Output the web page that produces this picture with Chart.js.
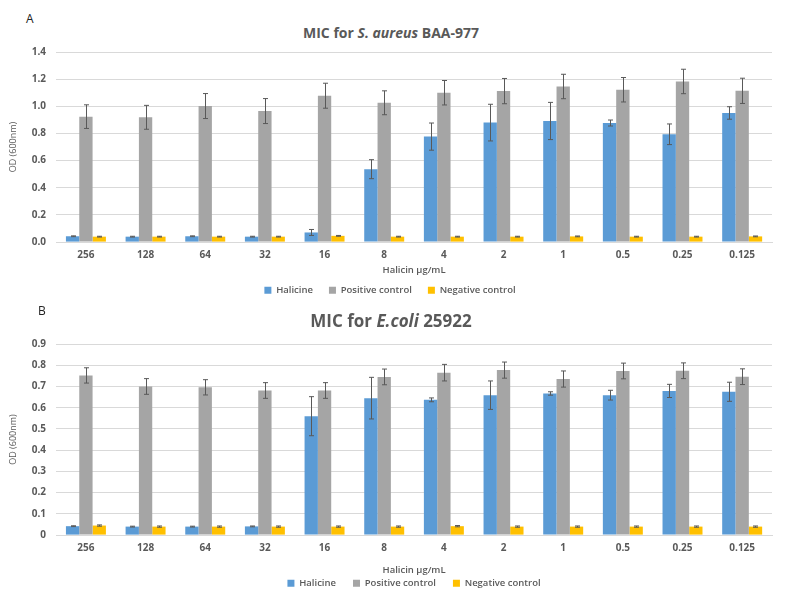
<!DOCTYPE html>
<html>
<head>
    <title>MIC for Halicin</title>
    <script src="https://cdn.jsdelivr.net/npm/chart.js"></script>
    <style>
        body {
            margin: 0;
            padding: 0;
            background: #fff;
            font-family: 'Open Sans', sans-serif;
            color: #595959;
        }
        .wrap {
            position: relative;
            width: 796px;
            height: 606px;
            overflow: hidden;
        }
        .panel {
            position: absolute;
            font-size: 12px;
            color: #222;
        }
        .title {
            position: absolute;
            left: -7px;
            width: 796px;
            text-align: center;
            font-weight: bold;
            color: #595959;
        }
        .box {
            position: absolute;
            left: 0;
            width: 796px;
        }
    </style>
</head>
<body>
<div class="wrap">
    <div class="panel" style="left:26px; top:10px;">A</div>
    <div class="title" style="top:23px; font-size:14px;">MIC for <i>S. aureus</i> BAA-977</div>
    <div class="box" style="top:36px; height:273px;"><canvas id="chartA"></canvas></div>

    <div class="panel" style="left:38px; top:302px;">B</div>
    <div class="title" style="top:309px; font-size:17px;">MIC for <i>E.coli</i> 25922</div>
    <div class="box" style="top:328px; height:275px;"><canvas id="chartB"></canvas></div>
</div>

<script>
// concentrations of halicin (µg/mL)
const categories = ['256', '128', '64', '32', '16', '8', '4', '2', '1', '0.5', '0.25', '0.125'];
const seriesNames = ['Halicine', 'Positive control', 'Negative control'];

// panel A - S. aureus BAA-977
const halicineA    = [0.043, 0.040, 0.043, 0.040, 0.071, 0.537, 0.777, 0.880, 0.892, 0.877, 0.794, 0.951];
const halicineErrA = [0.003, 0.003, 0.003, 0.003, 0.022, 0.070, 0.100, 0.135, 0.137, 0.022, 0.076, 0.046];
const positiveA    = [0.924, 0.919, 1.002, 0.965, 1.078, 1.026, 1.100, 1.112, 1.146, 1.122, 1.183, 1.114];
const positiveErrA = [0.087, 0.088, 0.092, 0.092, 0.092, 0.088, 0.090, 0.093, 0.090, 0.090, 0.090, 0.093];
const negativeA    = [0.040, 0.040, 0.040, 0.040, 0.046, 0.040, 0.040, 0.040, 0.042, 0.040, 0.040, 0.042];
const negativeErrA = [0.003, 0.003, 0.003, 0.003, 0.003, 0.003, 0.003, 0.003, 0.003, 0.003, 0.003, 0.003];

// panel B - E. coli 25922
const halicineB    = [0.042, 0.040, 0.040, 0.041, 0.560, 0.645, 0.637, 0.659, 0.667, 0.659, 0.679, 0.675];
const halicineErrB = [0.002, 0.002, 0.002, 0.002, 0.092, 0.098, 0.009, 0.067, 0.008, 0.023, 0.031, 0.045];
const positiveB    = [0.752, 0.700, 0.696, 0.681, 0.681, 0.745, 0.765, 0.777, 0.735, 0.773, 0.774, 0.746];
const positiveErrB = [0.036, 0.037, 0.036, 0.037, 0.037, 0.037, 0.039, 0.038, 0.038, 0.037, 0.037, 0.037];
const negativeB    = [0.045, 0.040, 0.040, 0.040, 0.040, 0.040, 0.042, 0.040, 0.040, 0.040, 0.040, 0.040];
const negativeErrB = [0.003, 0.003, 0.003, 0.003, 0.003, 0.003, 0.003, 0.003, 0.003, 0.003, 0.003, 0.003];

const colors = ['#5B9BD5', '#A5A5A5', '#FFC000'];
const textGrey = '#595959';

// draws the whiskers using the bar elements and the y scale
const errorBars = {
    id: 'errorBars',
    afterDatasetsDraw(chart) {
        const ctx = chart.ctx;
        const y = chart.scales.y;
        ctx.save();
        ctx.strokeStyle = '#595959';
        ctx.lineWidth = 1;
        chart.data.datasets.forEach((ds, i) => {
            const meta = chart.getDatasetMeta(i);
            meta.data.forEach((bar, j) => {
                const v = ds.data[j];
                const e = ds.errors[j];
                const top = y.getPixelForValue(v + e);
                const bot = y.getPixelForValue(v - e);
                const x = Math.round(bar.x) + 0.5;
                ctx.beginPath();
                ctx.moveTo(x, top);
                ctx.lineTo(x, bot);
                ctx.moveTo(x - 2.5, top);
                ctx.lineTo(x + 2.5, top);
                ctx.moveTo(x - 2.5, bot);
                ctx.lineTo(x + 2.5, bot);
                ctx.stroke();
            });
        });
        ctx.restore();
    }
};

function makeChart(id, values, errors, yMax, step, decimals, opts) {
    const ctx = document.getElementById(id).getContext('2d');
    return new Chart(ctx, {
        type: 'bar',
        data: {
            labels: categories,
            datasets: seriesNames.map((name, i) => ({
                label: name,
                data: values[i],
                errors: errors[i],
                backgroundColor: colors[i],
                borderWidth: 0,
                categoryPercentage: 0.67,
                barPercentage: 1.0
            }))
        },
        options: {
            responsive: true,
            maintainAspectRatio: false,
            animation: false,
            layout: { padding: opts.pad },
            plugins: {
                tooltip: { enabled: false },
                legend: {
                    position: 'bottom',
                    fullSize: opts.legendFull,
                    labels: {
                        boxWidth: 7,
                        boxHeight: 7,
                        padding: opts.legendPad,
                        color: textGrey,
                        font: { family: 'Open Sans', size: 9.5, weight: '600' }
                    }
                }
            },
            scales: {
                x: {
                    grid: { display: false, drawTicks: false },
                    border: { color: '#D9D9D9' },
                    ticks: {
                        color: textGrey,
                        padding: 7,
                        font: { family: 'Open Sans', size: 10, weight: 'bold' }
                    },
                    title: {
                        display: true,
                        text: 'Halicin µg/mL',
                        color: textGrey,
                        padding: opts.titlePad,
                        font: { family: 'Open Sans', size: 9.5, weight: '600' }
                    }
                },
                y: {
                    min: 0,
                    max: yMax,
                    grid: { color: '#D9D9D9', drawTicks: false },
                    border: { display: false },
                    ticks: {
                        stepSize: step,
                        color: textGrey,
                        padding: 10,
                        font: { family: 'Open Sans', size: 10, weight: 'bold' },
                        callback: (v) => decimals === null ? String(Math.round(v * 10) / 10) : v.toFixed(decimals)
                    },
                    title: {
                        display: true,
                        text: 'OD (600nm)',
                        color: textGrey,
                        padding: { top: 0, bottom: 3 },
                        font: { family: 'Open Sans', size: 9 }
                    }
                }
            }
        },
        plugins: [errorBars]
    });
}

makeChart('chartA',
    [halicineA, positiveA, negativeA],
    [halicineErrA, positiveErrA, negativeErrA],
    1.4, 0.2, 1,
    { pad: { top: 7, right: 24, left: 8, bottom: 4 }, legendPad: 16, legendFull: true,
      titlePad: { top: -4, bottom: -6 } });

makeChart('chartB',
    [halicineB, positiveB, negativeB],
    [halicineErrB, positiveErrB, negativeErrB],
    0.9, 0.1, null,
    { pad: { top: 9, right: 24, left: 8, bottom: 5 }, legendPad: 17, legendFull: false,
      titlePad: { top: 3, bottom: -14 } });
</script>
</body>
</html>
